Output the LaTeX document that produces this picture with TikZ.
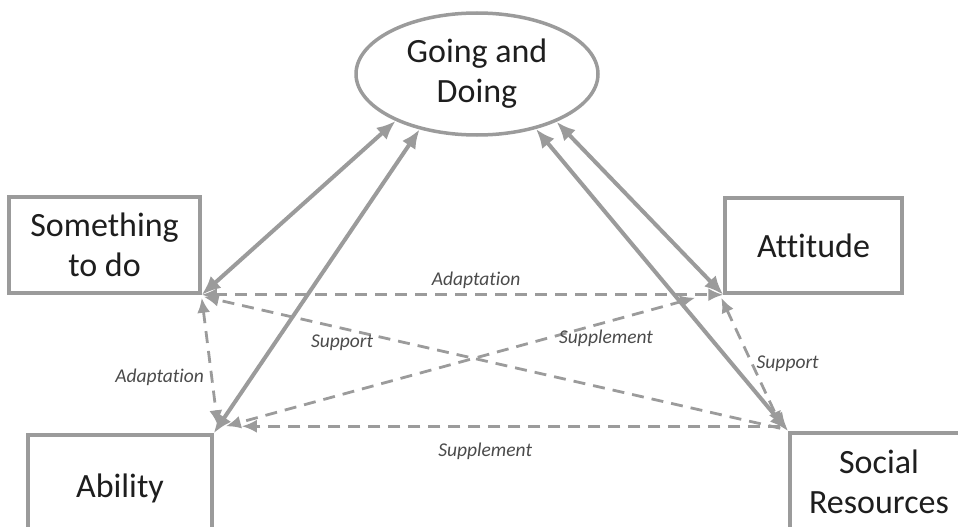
\documentclass[tikz,border=0pt]{standalone}
\usepackage{fontspec}
\setmainfont[Ligatures={NoCommon}]{Carlito}
\usetikzlibrary{arrows.meta,shapes.geometric}
\definecolor{linegray}{RGB}{155,155,155}
\definecolor{textdark}{RGB}{30,30,30}
\definecolor{labelgray}{RGB}{75,75,75}
\begin{document}
\begin{tikzpicture}[x=1pt,y=-1pt,
  box/.style={draw=linegray,line width=3.5pt,fill=white,inner sep=0pt,
    align=center,text=textdark,font=\fontsize{34}{40}\selectfont},
  goalshape/.style={ellipse,draw=linegray,line width=3.5pt,inner sep=0pt,
    minimum width=242pt,minimum height=122pt,align=center,text=textdark,
    font=\fontsize{34}{40}\selectfont},
  mainlink/.style={draw=linegray,line width=4pt,
    {Latex[length=19pt,width=16pt]}-{Latex[length=19pt,width=16pt]}},
  sidelink/.style={draw=linegray,line width=2.8pt,dash pattern=on 12pt off 8pt},
  dtip/.style={-{Latex[length=15pt,width=13pt]}},
  dtips/.style={{Latex[length=15pt,width=13pt]}-{Latex[length=15pt,width=13pt]}},
  lbl/.style={font=\itshape\fontsize{19.5}{22}\selectfont,text=labelgray,inner sep=2pt}]
\useasboundingbox (0,0) rectangle (958,527);
\clip (0,0) rectangle (958,527);

% outcome and the four elements
\node[goalshape] (goal) at (477,74) {Going and\\Doing};
\node[box,minimum width=191pt,minimum height=96pt] (sth) at (104.5,245) {Something\\to do};
\node[box,minimum width=177pt,minimum height=95pt] (att) at (813.5,245.5) {Attitude};
\node[box,minimum width=184pt,minimum height=106pt] (abil) at (120,488) {Ability};
\node[box,minimum width=178pt,minimum height=98pt] (soc) at (879,482) {Social\\Resources};

% solid links to the outcome
\draw[mainlink] (sth.south east) -- (goal.210);
\draw[mainlink] (abil.north east) -- (goal.224);
\draw[mainlink] (soc.north west) -- (goal.317);
\draw[mainlink] (att.south west) -- (goal.329);

% dashed links between the elements
\draw[sidelink,dtips] (sth.south east) --
  node[lbl,above,pos=0.526,yshift=3pt] {Adaptation} (att.south west);
\draw[sidelink,dtips] ([shift={(0,3)}]sth.south east) --
  node[lbl,left,pos=0.6,xshift=-4pt,yshift=-3pt] {Adaptation} ([shift={(4,-8)}]abil.north east);
\draw[sidelink,dtip] ([shift={(-8,-3)}]soc.north west) --
  node[lbl,pos=0.76,below,yshift=-3pt] {Support} ([shift={(2,2)}]sth.south east);
\draw[sidelink,dtips] ([shift={(-28,3)}]att.south west) --
  node[lbl,pos=0.19,below,yshift=-4pt] {Supplement} ([shift={(12,-7)}]abil.north east);
\draw[sidelink,dtips] ([shift={(-2,3)}]att.south west) --
  node[lbl,pos=0.5,right,xshift=2pt,yshift=-2pt] {Support} ([shift={(-7,-5)}]soc.north west);
\draw[sidelink,dtip] ([shift={(-8,-5)}]soc.north west) --
  node[lbl,pos=0.548,below,yshift=-13pt] {Supplement} ([shift={(28,-7)}]abil.north east);
\end{tikzpicture}
\end{document}
